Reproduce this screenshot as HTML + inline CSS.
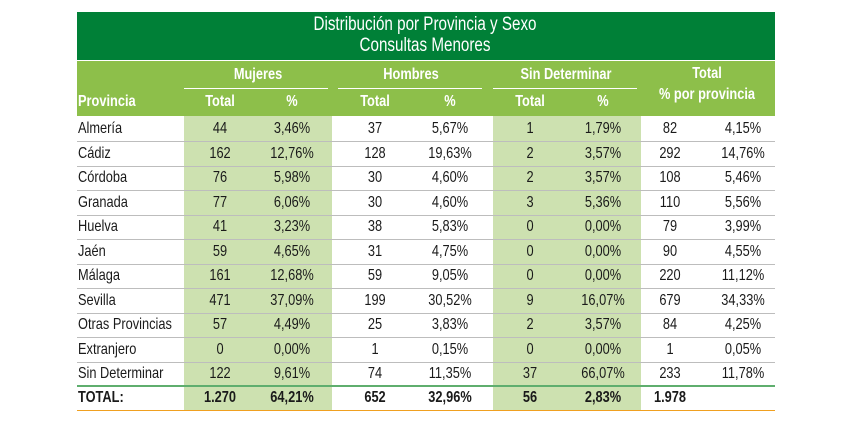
<!DOCTYPE html>
<html><head><meta charset="utf-8">
<style>
body{margin:0;width:850px;height:426px;background:#fff;overflow:hidden;position:relative;font-family:"Liberation Sans",sans-serif}
.a{position:absolute}
.t{position:absolute;white-space:nowrap;transform:translateX(-50%) scaleX(0.8);font-size:16px;color:#1a1a1a;line-height:18px}
.l{transform-origin:left;transform:scaleX(0.8)}
.w{color:#fff;font-weight:bold}
.b{font-weight:bold}
</style></head><body>
<div class="a" style="left:77px;top:12px;width:698px;height:48px;background:#008037"></div>
<div class="a" style="left:77px;top:61px;width:698px;height:55px;background:#8DBF4A"></div>
<div class="a" style="left:184px;top:116px;width:148px;height:294px;background:#CDE1B0"></div>
<div class="a" style="left:493px;top:116px;width:148px;height:294px;background:#CDE1B0"></div>
<div id="c"></div>
<script>
var c=document.getElementById('c'),h='';
function T(x,y,s,cl){h+='<div class="t '+(cl||'')+'" style="left:'+x+'px;top:'+(y-9)+'px">'+s+'</div>';}
h+='<div class="t" style="left:425px;top:15px;font-size:19px;line-height:20px;color:#fff">Distribución por Provincia y Sexo</div><div class="t" style="left:425px;top:36px;font-size:19px;line-height:20px;color:#fff">Consultas Menores</div>';
T(258,75,'Mujeres','w');T(411,75,'Hombres','w');T(566,75,'Sin Determinar','w');T(707,74,'Total','w');T(707,95,'% por provincia','w');
h+='<div class="t w l" style="left:78px;top:93px;transform:scaleX(0.8)">Provincia</div>';
[[184,332],[338,486],[493,641]].forEach(function(p){h+='<div class="a" style="left:'+p[0]+'px;top:88px;width:'+(p[1]-p[0]-4)+'px;height:1px;background:#fff"></div>';});
var cx=[220,292,375,450,530,603,670,743];
['Total','%','Total','%','Total','%'].forEach(function(s,i){T(cx[i],102,s,'w');});
var d=[['Almería',44,'3,46%',37,'5,67%',1,'1,79%',82,'4,15%'],['Cádiz',162,'12,76%',128,'19,63%',2,'3,57%',292,'14,76%'],['Córdoba',76,'5,98%',30,'4,60%',2,'3,57%',108,'5,46%'],['Granada',77,'6,06%',30,'4,60%',3,'5,36%',110,'5,56%'],['Huelva',41,'3,23%',38,'5,83%',0,'0,00%',79,'3,99%'],['Jaén',59,'4,65%',31,'4,75%',0,'0,00%',90,'4,55%'],['Málaga',161,'12,68%',59,'9,05%',0,'0,00%',220,'11,12%'],['Sevilla',471,'37,09%',199,'30,52%',9,'16,07%',679,'34,33%'],['Otras Provincias',57,'4,49%',25,'3,83%',2,'3,57%',84,'4,25%'],['Extranjero',0,'0,00%',1,'0,15%',0,'0,00%',1,'0,05%'],['Sin Determinar',122,'9,61%',74,'11,35%',37,'66,07%',233,'11,78%']];
d.forEach(function(r,i){var y=129+i*24.5;
 h+='<div class="t l" style="left:78px;top:'+(y-9)+'px;transform:scaleX(0.8)">'+r[0]+'</div>';
 for(var j=1;j<9;j++)T(cx[j-1],y,r[j]);
 if(i<10)h+='<div class="a" style="left:77px;top:'+(y+12)+'px;width:698px;height:1px;background:#bdbdbd"></div>';});
h+='<div class="a" style="left:77px;top:385px;width:698px;height:2px;background:#5fae6e"></div>';
h+='<div class="t l b" style="left:78px;top:389px;transform:scaleX(0.8)">TOTAL:</div>';
['1.270','64,21%','652','32,96%','56','2,83%','1.978'].forEach(function(s,i){T(cx[i],398,s,'b');});
h+='<div class="a" style="left:77px;top:410px;width:698px;height:1px;background:#f0a020"></div>';
c.innerHTML=h;
</script>
</body></html>
